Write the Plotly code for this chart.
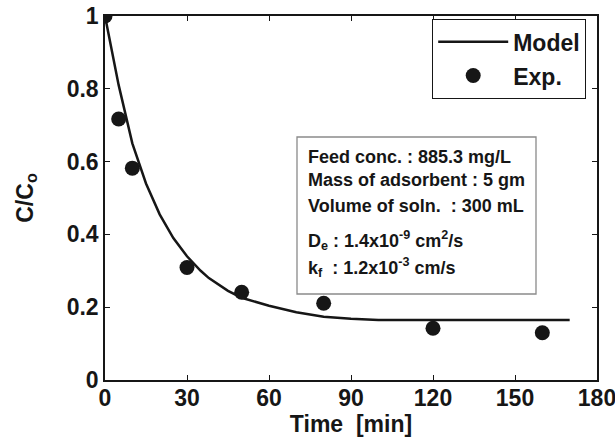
import plotly.graph_objects as go

# Model curve
model_t = [0, 5, 10, 15, 20, 25, 30, 35, 38, 45, 50, 55, 60, 70, 80, 90, 100, 110, 120, 130, 140, 150, 160, 170]
model_c = [1.0, 0.81, 0.65, 0.54, 0.455, 0.39, 0.34, 0.30, 0.28, 0.245, 0.226, 0.214, 0.204, 0.186, 0.174, 0.168, 0.165, 0.165, 0.165, 0.165, 0.165, 0.165, 0.165, 0.165]

# Experimental points
exp_t = [0, 5, 10, 30, 50, 80, 120, 160]
exp_c = [1.0, 0.717, 0.582, 0.309, 0.241, 0.211, 0.142, 0.130]

x_ticks = [0, 30, 60, 90, 120, 150, 180]
y_ticks = [0, 0.2, 0.4, 0.6, 0.8, 1.0]
y_ticklabels = ["0", "0.2", "0.4", "0.6", "0.8", "1"]

info_lines = [
    "Feed conc. : 885.3 mg/L",
    "Mass of adsorbent : 5 gm",
    "Volume of soln.  : 300 mL",
    "D<sub>e</sub> : 1.4x10<sup>-9</sup> cm<sup>2</sup>/s",
    "k<sub>f</sub>  : 1.2x10<sup>-3</sup> cm/s",
]
info_y_px = [157, 180, 206, 240, 267]

FONT = "Liberation Sans, Arial, sans-serif"
INK = "#161616"

# plot-area pixel geometry (used only for layout placement of the text box)
L, R, T, B = 105, 597, 16, 380
def px_x(p):
    return (p - L) / (R - L)
def px_y(p):
    return (B - p) / (B - T)

fig = go.Figure()
fig.add_trace(go.Scatter(x=model_t, y=model_c, mode="lines", name="Model",
                         legendgroup="a",
                         line=dict(color=INK, width=2.5)))
fig.add_trace(go.Scatter(x=exp_t, y=exp_c, mode="markers", name="Exp.",
                         legendgroup="b",
                         marker=dict(color=INK, size=15)))

axis_common = dict(
    showline=True, linecolor=INK, linewidth=1.5, mirror="ticks",
    ticks="inside", ticklen=5, tickwidth=1.2, tickcolor=INK,
    showgrid=False, zeroline=False, ticklabeloverflow="allow",
    automargin=False,
    tickfont=dict(family=FONT, size=23, color=INK, weight="bold"),
)

fig.update_layout(
    width=615, height=446,
    margin=dict(l=L, r=615 - R, t=T, b=446 - B, autoexpand=False),
    paper_bgcolor="white", plot_bgcolor="white",
    xaxis=dict(range=[0, 180], tickvals=x_ticks, ticklabelstandoff=-3,
               title=dict(text="Time  [min]", standoff=0,
                          font=dict(family=FONT, size=23, color=INK, weight="bold")),
               **axis_common),
    yaxis=dict(range=[0, 1], tickvals=y_ticks, ticktext=y_ticklabels,
               title=dict(text="C/C<sub>o</sub>", standoff=27,
                          font=dict(family=FONT, size=23, color=INK, weight="bold")),
               **axis_common),
    legend=dict(x=px_x(586), y=px_y(19), xanchor="right", yanchor="top",
                bordercolor=INK, borderwidth=1.2, bgcolor="white",
                tracegroupgap=1, itemwidth=70,
                font=dict(family=FONT, size=23, color=INK, weight="bold")),
    showlegend=True,
)

# Info box
fig.add_shape(type="rect", xref="paper", yref="paper",
              x0=px_x(297), x1=px_x(536), y0=px_y(294), y1=px_y(137),
              line=dict(color="#8a8a8a", width=1.3), fillcolor="rgba(0,0,0,0)")
for txt, yy in zip(info_lines, info_y_px):
    fig.add_annotation(text=txt, xref="paper", yref="paper",
                       x=px_x(306), y=px_y(yy), xanchor="left", yanchor="middle",
                       showarrow=False, align="left",
                       font=dict(family=FONT, size=18, color=INK, weight="bold"))

fig.write_html("out.html")
